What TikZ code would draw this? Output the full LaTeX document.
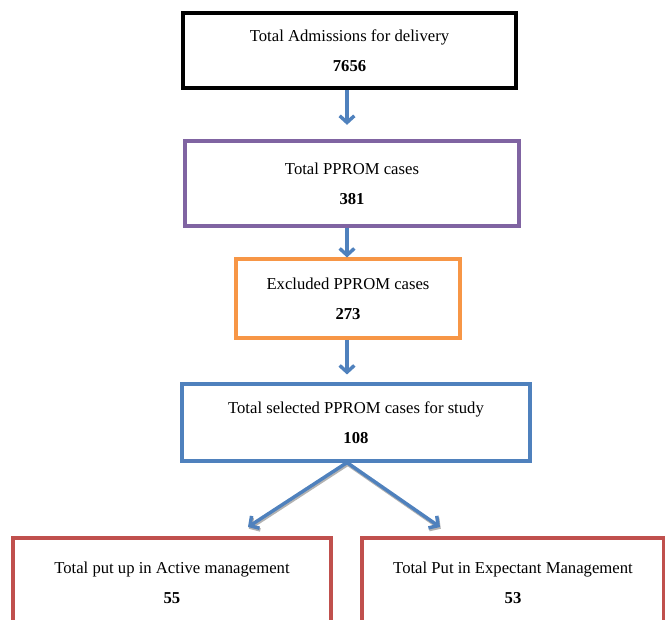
\documentclass[tikz,border=0pt]{standalone}
\usepackage{fontspec}
\setmainfont{Liberation Serif}
\usetikzlibrary{arrows.meta}

\definecolor{flowblue}{RGB}{79,129,189}
\definecolor{boxpurple}{RGB}{128,100,162}
\definecolor{boxorange}{RGB}{247,150,70}
\definecolor{boxred}{RGB}{192,80,77}

\begin{document}
\begin{tikzpicture}[x=0.75pt, y=-0.75pt,
	every node/.style={draw, fill=white, align=center, inner sep=0pt,
		font=\fontsize{12.5}{15}\selectfont},
	flow/.style={draw=flowblue, line width=2.6pt,
		-{Straight Barb[length=5pt, width=11pt]}},
	shadowed/.style={preaction={draw=gray!60, line width=2.6pt,
		transform canvas={shift={(0.6pt,-1.3pt)}}}}]
	\clip (0,0) rectangle (665,619);

	\node[line width=3.3pt, minimum width=333*0.75pt, minimum height=75*0.75pt]
		(tot) at (349.5,50.5) {Total Admissions for delivery\\[7.5pt]\textbf{7656}};
	\node[draw=boxpurple, line width=2.3pt, minimum width=334*0.75pt, minimum height=85*0.75pt]
		(ppr) at (352,183.5) {Total PPROM cases\\[7.5pt]\textbf{381}};
	\node[draw=boxorange, line width=2.3pt, minimum width=224*0.75pt, minimum height=79*0.75pt]
		(exc) at (348,298.5) {Excluded PPROM cases\\[7.5pt]\textbf{273}};
	\node[draw=flowblue, line width=2.3pt, minimum width=348*0.75pt, minimum height=77*0.75pt]
		(sel) at (356,422.5) {Total selected PPROM cases for study\\[7.5pt]\textbf{108}};
	\node[draw=boxred, line width=2.3pt, minimum width=318*0.75pt, minimum height=90*0.75pt]
		(act) at (172,583) {Total put up in Active management\\[7.5pt]\textbf{55}};
	\node[draw=boxred, line width=2.3pt, minimum width=302*0.75pt, minimum height=90*0.75pt]
		(exp) at (513,583) {Total Put in Expectant Management\\[7.5pt]\textbf{53}};

	\coordinate (actin) at (248,527);
	\coordinate (expin) at (440,527);

	\draw[flow, shorten >=11pt] (tot.south -| 347,0) -- (ppr.north -| 347,0);
	\draw[flow] (ppr.south -| 347,0) -- (exc.north -| 347,0);
	\draw[flow, shorten >=6pt] (exc.south -| 347,0) -- (sel.north -| 347,0);
	%\draw[flow] (sel.south) -- (act.north);
	\draw[flow, shadowed] (sel.south -| 347,0) -- (actin);
	\draw[flow, shadowed] (sel.south -| 347,0) -- (expin);

\end{tikzpicture}
\end{document}
